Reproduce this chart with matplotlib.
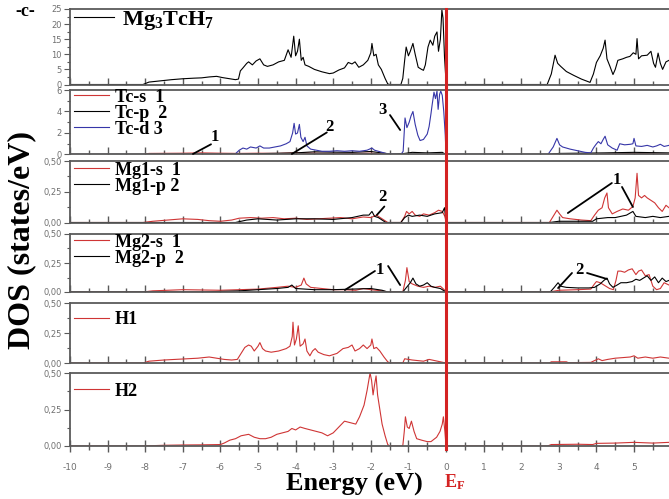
import numpy as np
import matplotlib
matplotlib.use("Agg")
import matplotlib.pyplot as plt
from matplotlib.lines import Line2D
from matplotlib.ticker import MultipleLocator
from matplotlib.transforms import blended_transform_factory

plt.rcParams['mathtext.default'] = 'regular'
plt.rcParams['axes.unicode_minus'] = False

SERIF = 'Liberation Serif'
RED = '#cf3535'
BLUE = '#3636a8'
GREY = '#5a5a5a'
E_MIN, E_MAX = -10, 5.93

# (energy eV, DOS)
tdos = [(-10, 0), (-8.06, 0), (-7.9, 0.8), (-7.6, 1.2), (-7.3, 1.6), (-7.0, 1.9), (-6.7, 2.1),
        (-6.5, 2.2), (-6.3, 2.5), (-6.1, 2.7), (-5.95, 2.3), (-5.8, 2.0), (-5.6, 1.6), (-5.52, 1.8),
        (-5.47, 4.5), (-5.4, 5.5), (-5.3, 7.0), (-5.25, 7.5), (-5.15, 6.5), (-5.05, 7.8), (-4.95, 8.5),
        (-4.85, 6.5), (-4.75, 6.0), (-4.6, 6.5), (-4.45, 7.5), (-4.3, 8.0), (-4.2, 11.5), (-4.12, 9.0),
        (-4.05, 16.0), (-4.0, 9.5), (-3.95, 11), (-3.9, 15.0), (-3.85, 8.0), (-3.8, 9.0), (-3.75, 6.5),
        (-3.65, 6.0), (-3.5, 5.0), (-3.3, 4.2), (-3.1, 3.6), (-3.0, 3.8), (-2.85, 4.8), (-2.7, 5.5),
        (-2.6, 7.3), (-2.5, 6.8), (-2.42, 7.5), (-2.32, 5.7), (-2.2, 6.5), (-2.08, 8.0), (-2.0, 10.5),
        (-1.97, 13.6), (-1.92, 9.5), (-1.86, 10), (-1.8, 6.5), (-1.72, 5.0), (-1.62, 2.0), (-1.55, 0.2),
        (-1.5, 0), (-1.2, 0), (-1.15, 2.0), (-1.1, 8.0), (-1.06, 12.4), (-1.0, 9.5), (-0.95, 11),
        (-0.88, 13.6), (-0.82, 10), (-0.74, 5.7), (-0.65, 5.0), (-0.6, 4.7), (-0.55, 6.5), (-0.48, 12.4),
        (-0.42, 14.7), (-0.35, 13), (-0.3, 16), (-0.24, 17.4), (-0.2, 11), (-0.15, 15), (-0.11, 24.7),
        (-0.08, 22), (-0.04, 9.0), (-0.01, 3), (0, 0), (2.69, 0), (2.8, 3.5), (2.9, 9.7), (2.97, 7.0),
        (3.05, 6.0), (3.2, 4.3), (3.4, 3.0), (3.6, 1.8), (3.83, 0.7), (3.92, 3.5), (4.0, 7.3), (4.1, 9.5),
        (4.18, 12), (4.23, 14.7), (4.28, 8.5), (4.36, 6), (4.44, 3.3), (4.5, 5), (4.57, 8.0), (4.7, 8.5),
        (4.8, 9.0), (4.89, 9.3), (4.98, 10.5), (5.05, 10), (5.08, 15.2), (5.12, 8.5), (5.2, 9.5),
        (5.35, 9.7), (5.45, 11.0), (5.52, 7), (5.57, 5.7), (5.64, 10.4), (5.7, 7), (5.76, 5.0),
        (5.85, 7.5), (5.93, 8.0)]

tc_s = [(-10, 0), (-8.05, 0), (-7.9, 0.1), (-7.0, 0.12), (-6.5, 0.15), (-6.0, 0.12), (-5.5, 0.1),
        (-5.0, 0.12), (-4.5, 0.1), (-4.0, 0.15), (-3.5, 0.12), (-3.0, 0.1), (-2.5, 0.1), (-2.0, 0.12),
        (-1.6, 0.05), (-1.5, 0), (2.7, 0), (3.0, 0.05), (4.0, 0.05), (5.0, 0.08), (5.93, 0.05)]
tc_p = [(-10, 0), (-5.6, 0), (-5.0, 0.08), (-4.0, 0.15), (-3.5, 0.25), (-3.0, 0.22), (-2.5, 0.2),
        (-2.0, 0.28), (-1.6, 0.1), (-1.5, 0), (-1.1, 0.1), (-0.9, 0.2), (-0.5, 0.15), (-0.1, 0.2),
        (0, 0), (2.7, 0), (3.0, 0.1), (4.2, 0.15), (5.0, 0.2), (5.93, 0.15)]
tc_d = [(-10, 0), (-5.62, 0), (-5.5, 0.4), (-5.4, 0.6), (-5.3, 0.5), (-5.2, 0.7), (-5.05, 0.6),
        (-4.95, 0.8), (-4.85, 0.6), (-4.7, 0.6), (-4.55, 0.7), (-4.4, 0.8), (-4.25, 1.0), (-4.15, 1.2),
        (-4.08, 2.0), (-4.04, 2.9), (-4.0, 1.9), (-3.95, 2.0), (-3.9, 2.8), (-3.86, 1.6), (-3.8, 1.2),
        (-3.75, 1.6), (-3.7, 0.8), (-3.6, 0.5), (-3.45, 0.4), (-3.3, 0.3), (-3.1, 0.3), (-2.9, 0.35),
        (-2.7, 0.3), (-2.5, 0.35), (-2.3, 0.3), (-2.1, 0.4), (-1.97, 0.6), (-1.9, 0.4), (-1.8, 0.3),
        (-1.6, 0.1), (-1.45, 0.05), (-1.2, 0.0), (-1.14, 0.3), (-1.09, 3.4), (-1.04, 2.5), (-0.98, 3.0),
        (-0.93, 3.6), (-0.88, 4.0), (-0.82, 2.8), (-0.75, 1.8), (-0.69, 1.3), (-0.6, 1.4), (-0.5, 1.9),
        (-0.45, 2.6), (-0.4, 3.8), (-0.37, 4.6), (-0.32, 5.8), (-0.28, 5.2), (-0.24, 5.9), (-0.21, 4.2),
        (-0.17, 5.6), (-0.14, 5.9), (-0.1, 5.5), (-0.06, 4.0), (-0.02, 1.8), (0, 0), (2.71, 0),
        (2.85, 0.7), (2.95, 1.5), (3.02, 0.9), (3.1, 0.7), (3.3, 0.5), (3.5, 0.35), (3.7, 0.2),
        (3.85, 0.15), (3.92, 0.6), (3.98, 0.9), (4.05, 1.2), (4.12, 1.0), (4.18, 1.4), (4.23, 1.7),
        (4.3, 0.9), (4.42, 0.6), (4.55, 0.4), (4.62, 1.0), (4.75, 0.9), (4.9, 0.95), (4.97, 1.0),
        (5.0, 1.5), (5.05, 0.8), (5.2, 0.75), (5.35, 0.85), (5.5, 0.7), (5.6, 0.8), (5.7, 0.95),
        (5.8, 0.75), (5.93, 0.85)]

mg1_s = [(-10, 0), (-8.06, 0), (-7.8, 0.01), (-7.4, 0.02), (-7.0, 0.03), (-6.6, 0.025), (-6.3, 0.015),
         (-6.0, 0.01), (-5.7, 0.02), (-5.5, 0.035), (-5.2, 0.04), (-4.9, 0.035), (-4.6, 0.04),
         (-4.3, 0.03), (-4.0, 0.035), (-3.7, 0.025), (-3.4, 0.03), (-3.1, 0.035), (-2.8, 0.04),
         (-2.5, 0.03), (-2.2, 0.045), (-2.0, 0.04), (-1.85, 0.06), (-1.7, 0.03), (-1.55, 0.0),
         (-1.2, 0), (-1.1, 0.05), (-1.05, 0.09), (-0.98, 0.07), (-0.9, 0.09), (-0.82, 0.06),
         (-0.7, 0.05), (-0.6, 0.07), (-0.45, 0.06), (-0.3, 0.08), (-0.2, 0.1), (-0.1, 0.09),
         (-0.03, 0.05), (0, 0), (2.75, 0), (2.85, 0.05), (2.95, 0.1), (3.02, 0.07), (3.1, 0.04),
         (3.3, 0.03), (3.6, 0.02), (3.85, 0.015), (3.95, 0.06), (4.05, 0.1), (4.15, 0.12), (4.22, 0.2),
         (4.28, 0.24), (4.32, 0.12), (4.42, 0.07), (4.55, 0.09), (4.7, 0.11), (4.85, 0.1), (4.97, 0.13),
         (5.03, 0.2), (5.08, 0.4), (5.12, 0.22), (5.2, 0.2), (5.28, 0.22), (5.35, 0.2), (5.45, 0.18),
         (5.55, 0.16), (5.65, 0.12), (5.75, 0.09), (5.85, 0.14), (5.93, 0.12)]
mg1_p = [(-10, 0), (-5.6, 0), (-5.3, 0.02), (-5.0, 0.03), (-4.5, 0.02), (-4.0, 0.03), (-3.5, 0.03),
         (-3.0, 0.025), (-2.5, 0.04), (-2.2, 0.06), (-2.05, 0.06), (-1.97, 0.09), (-1.9, 0.05),
         (-1.8, 0.04), (-1.6, 0.0), (-1.2, 0), (-1.1, 0.04), (-1.0, 0.06), (-0.9, 0.05), (-0.7, 0.06),
         (-0.5, 0.05), (-0.3, 0.07), (-0.1, 0.08), (-0.04, 0.12), (0, 0), (2.75, 0), (3.0, 0.01),
         (3.9, 0.01), (4.0, 0.03), (4.3, 0.04), (4.5, 0.04), (4.8, 0.06), (4.97, 0.09), (5.05, 0.05),
         (5.3, 0.04), (5.5, 0.05), (5.7, 0.04), (5.93, 0.05)]

mg2_s = [(-10, 0), (-8.06, 0), (-7.8, 0.01), (-7.0, 0.02), (-6.0, 0.015), (-5.5, 0.02), (-5.0, 0.025),
         (-4.5, 0.04), (-4.2, 0.05), (-4.0, 0.04), (-3.85, 0.06), (-3.78, 0.12), (-3.72, 0.07),
         (-3.6, 0.04), (-3.3, 0.03), (-3.0, 0.02), (-2.7, 0.02), (-2.4, 0.015), (-2.2, 0.03),
         (-2.0, 0.02), (-1.7, 0.01), (-1.55, 0), (-1.15, 0), (-1.08, 0.1), (-1.04, 0.21), (-0.98, 0.09),
         (-0.9, 0.07), (-0.75, 0.05), (-0.6, 0.04), (-0.45, 0.05), (-0.3, 0.04), (-0.15, 0.05),
         (-0.05, 0.02), (0, 0), (2.75, 0), (3.0, 0.015), (3.5, 0.02), (3.85, 0.025), (3.95, 0.07),
         (4.0, 0.09), (4.1, 0.08), (4.2, 0.06), (4.35, 0.03), (4.45, 0.02), (4.52, 0.1), (4.57, 0.18),
         (4.65, 0.18), (4.75, 0.17), (4.85, 0.19), (4.95, 0.2), (5.05, 0.15), (5.12, 0.18), (5.2, 0.19),
         (5.3, 0.14), (5.4, 0.15), (5.5, 0.05), (5.6, 0.02), (5.7, 0.03), (5.8, 0.08), (5.93, 0.06)]
mg2_p = [(-10, 0), (-6.5, 0), (-5.5, 0.01), (-5.0, 0.02), (-4.5, 0.03), (-4.2, 0.04), (-4.1, 0.06),
         (-4.0, 0.03), (-3.5, 0.02), (-3.0, 0.02), (-2.5, 0.025), (-2.0, 0.03), (-1.7, 0.015),
         (-1.55, 0), (-1.15, 0), (-1.05, 0.04), (-0.95, 0.08), (-0.88, 0.12), (-0.8, 0.07), (-0.7, 0.05),
         (-0.6, 0.06), (-0.5, 0.08), (-0.4, 0.05), (-0.3, 0.04), (-0.15, 0.03), (0, 0), (2.77, 0),
         (2.88, 0.04), (2.98, 0.08), (3.05, 0.05), (3.2, 0.04), (3.5, 0.035), (3.8, 0.035), (3.95, 0.04),
         (4.1, 0.07), (4.2, 0.1), (4.28, 0.12), (4.35, 0.07), (4.44, 0.04), (4.55, 0.06), (4.65, 0.08),
         (4.8, 0.08), (4.95, 0.09), (5.05, 0.11), (5.15, 0.1), (5.25, 0.12), (5.35, 0.14), (5.45, 0.1),
         (5.55, 0.13), (5.65, 0.08), (5.75, 0.12), (5.85, 0.09), (5.93, 0.1)]

h1 = [(-10, 0), (-8.06, 0), (-7.9, 0.015), (-7.5, 0.025), (-7.2, 0.03), (-6.9, 0.035), (-6.6, 0.04),
      (-6.3, 0.05), (-6.1, 0.04), (-5.9, 0.03), (-5.7, 0.025), (-5.55, 0.03), (-5.45, 0.08),
      (-5.35, 0.13), (-5.25, 0.15), (-5.18, 0.14), (-5.1, 0.1), (-5.0, 0.14), (-4.95, 0.17),
      (-4.88, 0.12), (-4.8, 0.1), (-4.65, 0.09), (-4.45, 0.1), (-4.25, 0.12), (-4.15, 0.14),
      (-4.09, 0.22), (-4.07, 0.34), (-4.03, 0.15), (-3.98, 0.2), (-3.93, 0.31), (-3.88, 0.14),
      (-3.8, 0.16), (-3.75, 0.2), (-3.7, 0.1), (-3.62, 0.06), (-3.55, 0.1), (-3.48, 0.12), (-3.4, 0.09),
      (-3.25, 0.07), (-3.1, 0.06), (-2.9, 0.08), (-2.74, 0.12), (-2.6, 0.13), (-2.5, 0.15),
      (-2.42, 0.1), (-2.3, 0.12), (-2.2, 0.15), (-2.1, 0.12), (-2.0, 0.15), (-1.97, 0.2),
      (-1.92, 0.12), (-1.85, 0.13), (-1.76, 0.1), (-1.65, 0.05), (-1.55, 0.01), (-1.49, 0),
      (-1.15, 0), (-1.1, 0.035), (-1.0, 0.03), (-0.9, 0.025), (-0.75, 0.02), (-0.6, 0.015),
      (-0.45, 0.03), (-0.3, 0.02), (-0.15, 0.01), (0, 0), (2.75, 0), (2.8, 0.01), (3.2, 0.01),
      (3.25, 0.003), (3.85, 0.005), (3.95, 0.02), (4.05, 0.035), (4.15, 0.02), (4.3, 0.03),
      (4.5, 0.04), (4.7, 0.045), (4.9, 0.05), (5.0, 0.06), (5.1, 0.04), (5.3, 0.05), (5.5, 0.04),
      (5.7, 0.05), (5.93, 0.04)]
h2 = [(-10, 0), (-8.06, 0), (-7.5, 0.005), (-7.0, 0.007), (-6.5, 0.008), (-6.0, 0.01), (-5.9, 0.02),
      (-5.75, 0.04), (-5.6, 0.05), (-5.45, 0.07), (-5.35, 0.075), (-5.25, 0.08), (-5.1, 0.06),
      (-4.95, 0.05), (-4.8, 0.05), (-4.65, 0.06), (-4.5, 0.08), (-4.35, 0.09), (-4.2, 0.1),
      (-4.1, 0.12), (-4.0, 0.11), (-3.88, 0.13), (-3.75, 0.12), (-3.6, 0.11), (-3.45, 0.1),
      (-3.3, 0.09), (-3.15, 0.07), (-3.0, 0.09), (-2.85, 0.13), (-2.7, 0.17), (-2.55, 0.16),
      (-2.4, 0.15), (-2.3, 0.2), (-2.18, 0.28), (-2.1, 0.38), (-2.02, 0.5), (-1.98, 0.45),
      (-1.94, 0.35), (-1.9, 0.42), (-1.86, 0.48), (-1.82, 0.35), (-1.76, 0.25), (-1.7, 0.15),
      (-1.62, 0.07), (-1.55, 0.01), (-1.5, 0), (-1.15, 0), (-1.11, 0.1), (-1.08, 0.2), (-1.03, 0.13),
      (-0.98, 0.12), (-0.92, 0.17), (-0.85, 0.1), (-0.78, 0.05), (-0.65, 0.04), (-0.5, 0.03),
      (-0.4, 0.03), (-0.25, 0.06), (-0.16, 0.1), (-0.1, 0.15), (-0.07, 0.2), (-0.03, 0.1), (0, 0),
      (2.7, 0), (2.8, 0.01), (3.5, 0.012), (3.9, 0.01), (4.0, 0.018), (4.5, 0.02), (5.0, 0.025),
      (5.5, 0.02), (5.93, 0.025)]

# one entry per panel: curves (data, colour, legend label)
panels = [
    [(tdos, 'black', 'Mg$_3$TcH$_7$')],
    [(tc_s, RED, 'Tc-s  1'), (tc_p, 'black', 'Tc-p  2'), (tc_d, BLUE, 'Tc-d 3')],
    [(mg1_s, RED, 'Mg1-s  1'), (mg1_p, 'black', 'Mg1-p 2')],
    [(mg2_s, RED, 'Mg2-s  1'), (mg2_p, 'black', 'Mg2-p  2')],
    [(h1, RED, 'H1')],
    [(h2, RED, 'H2')],
]
y_max = [25, 6, 0.5, 0.5, 0.5, 0.5]
y_major = [5, 2, 0.25, 0.25, 0.25, 0.25]
y_fmt = ['{:.0f}', '{:.0f}', '{:.2f}', '{:.2f}', '{:.2f}', '{:.2f}']

# number labels with their pointer lines: panel, text, text pos, [(start, end), ...]
notes = [
    (1, '1', (-6.14, 1.63), [((-6.73, 0.05), (-6.25, 0.95))]),
    (1, '2', (-3.09, 2.56), [((-4.10, 0.05), (-3.17, 2.05))]),
    (1, '3', (-1.68, 4.14), [((-1.49, 3.67), (-1.22, 2.28))]),
    (2, '2', (-1.68, 0.207), [((-1.84, 0.061), (-1.64, 0.13))]),
    (2, '1', (4.55, 0.346), [((3.24, 0.077), (4.41, 0.321)), ((4.68, 0.289), (4.97, 0.126))]),
    (3, '1', (-1.76, 0.19), [((-2.69, 0.017), (-1.89, 0.181)), ((-1.54, 0.224), (-1.22, 0.06))]),
    (3, '2', (3.56, 0.19), [((2.98, 0.034), (3.35, 0.164)), ((3.75, 0.164), (4.28, 0.112))]),
]

# panel rectangles from pixel rows (top, bottom)
rows_px = [(9, 84.5), (90, 154.5), (161, 222.5), (234, 292), (303, 363), (373, 446)]
legend_y = [0.85, 0.64, 0.72, 0.72, 0.72, 0.75]
W, H = 669, 499
left = 70 / W

fig = plt.figure(figsize=(W / 100, H / 100), dpi=100)
axes = []
for i, (top, bot) in enumerate(rows_px):
    ax = fig.add_axes([left, 1 - bot / H, 1 - left, (bot - top) / H])
    handles = []
    for data, color, label in panels[i]:
        pts = np.array(data, dtype=float)
        ln, = ax.plot(pts[:, 0], pts[:, 1], color=color, lw=0.8, label=label)
        handles.append(ln)
    ax.set_xlim(E_MIN, E_MAX)
    ax.set_ylim(0, y_max[i])
    ax.xaxis.set_major_locator(MultipleLocator(1))
    ax.xaxis.set_minor_locator(MultipleLocator(0.5))
    ax.yaxis.set_minor_locator(MultipleLocator(y_major[i] / 2))
    ticks = np.arange(0, y_max[i] + 1e-9, y_major[i])
    ax.set_yticks(ticks)
    ax.set_yticklabels([y_fmt[i].format(t).replace('.', ',') for t in ticks])
    last = i == len(rows_px) - 1
    ax.tick_params(axis='x', which='both', direction='inout' if last else 'in',
                   color=GREY, labelbottom=last, labelsize=6.5, labelcolor='#707070', pad=8)
    ax.tick_params(axis='x', which='major', length=8 if last else 5, width=1)
    ax.tick_params(axis='x', which='minor', length=6 if last else 3, width=1)
    ax.tick_params(axis='y', which='both', direction='out', color=GREY,
                   labelsize=6, labelcolor='#707070', pad=2)
    ax.tick_params(axis='y', which='major', length=4, width=0.8)
    ax.tick_params(axis='y', which='minor', length=2.5, width=0.8)
    for side in ['left', 'top', 'bottom']:
        ax.spines[side].set_color(GREY)
        ax.spines[side].set_linewidth(1.3)
    ax.spines['right'].set_visible(False)
    size = 16 if i == 0 else 13
    ax.legend(handles=handles, loc='center left', bbox_to_anchor=(0.0, legend_y[i]),
              frameon=False, prop=dict(family=SERIF, weight='bold', size=size),
              handlelength=1.95 if i else 1.8, handletextpad=0.35, labelspacing=-0.05,
              borderpad=0.2, borderaxespad=0.0)
    axes.append(ax)

for i, label, pos, segs in notes:
    ax = axes[i]
    ax.text(pos[0], pos[1], label, family=SERIF, weight='bold', fontsize=12,
            ha='center', va='center')
    for start, end in segs:
        ax.annotate('', xy=end, xytext=start,
                    arrowprops=dict(arrowstyle='-', color='black', lw=1.3,
                                    shrinkA=0, shrinkB=0))

# Fermi level line through all panels
trans = blended_transform_factory(axes[-1].transData, fig.transFigure)
fig.add_artist(Line2D([0, 0], [1 - 449 / H, 1 - 9 / H], transform=trans,
                      color='#d42323', lw=2.2, zorder=10))

fig.text(15 / W, 1 - 12 / H, '-c-', family=SERIF, weight='bold', fontsize=13, va='center')
fig.text(22 / W, 1 - 240 / H, 'DOS (states/eV)', family=SERIF, weight='bold', fontsize=23,
         rotation=90, ha='center', va='center')
fig.text(354 / W, 1 - 484 / H, 'Energy (eV)', family=SERIF, weight='bold', fontsize=19,
         ha='center', va='center')
fig.text(444 / W, 1 - 487 / H, 'E$_F$', family=SERIF, weight='bold', fontsize=13,
         color='#d42323', ha='left', va='baseline')

fig.savefig('out.png', dpi=100)
